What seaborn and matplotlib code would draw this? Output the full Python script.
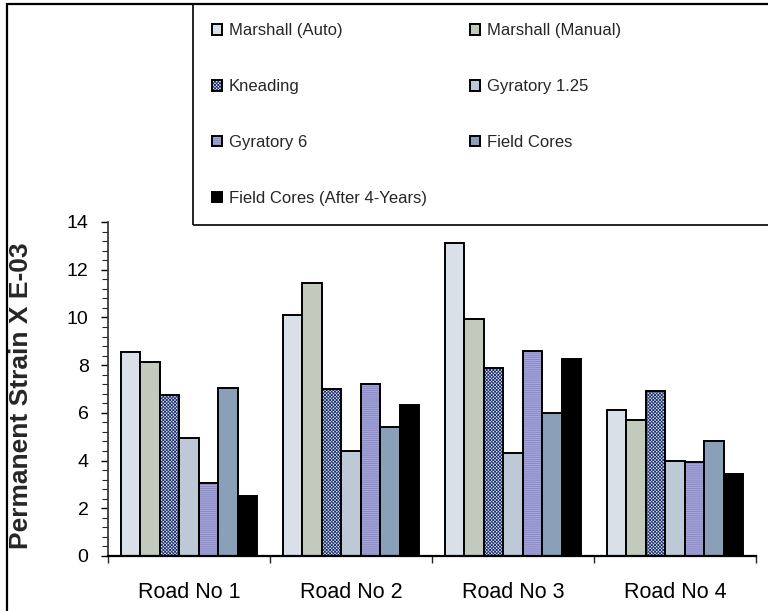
import pandas as pd
import numpy as np
import matplotlib.pyplot as plt
import matplotlib.patches as mpatches
from matplotlib.colors import to_rgba
from matplotlib.ticker import MultipleLocator
import seaborn as sns

sns.set_theme(style="white")
plt.rcParams['font.family'] = ['Liberation Sans', 'DejaVu Sans']
plt.rcParams['hatch.linewidth'] = 0.6

roads = ["Road No 1", "Road No 2", "Road No 3", "Road No 4"]
methods = ["Marshall (Auto)", "Marshall (Manual)", "Kneading", "Gyratory 1.25",
           "Gyratory 6", "Field Cores", "Field Cores (After 4-Years)"]

marshall_auto = [8.55, 10.1, 13.1, 6.1]
marshall_manual = [8.15, 11.45, 9.95, 5.7]
kneading = [6.75, 7.0, 7.9, 6.9]
gyratory_125 = [4.95, 4.4, 4.3, 4.0]
gyratory_6 = [3.05, 7.2, 8.6, 3.95]
field_cores = [7.05, 5.4, 6.0, 4.8]
field_cores_4yr = [2.5, 6.35, 8.25, 3.45]

colors = ["#D9E0E8", "#C2CABE", "#DCE2EE", "#BDC9D6", "#A6A6D8", "#8A9FB8", "#000000"]
hatches = [None, None, "xxxxxxxxxx", None, "--------", None, None]
hatch_colors = [None, None, "#1E3470", None, "#8686C6", None, None]

series = [marshall_auto, marshall_manual, kneading, gyratory_125,
          gyratory_6, field_cores, field_cores_4yr]
df = pd.DataFrame({
    "Road": np.tile(roads, len(methods)),
    "Method": np.repeat(methods, len(roads)),
    "Strain": np.concatenate(series),
})

fig = plt.figure(figsize=(7.68, 6.11), dpi=100)
ax = fig.add_axes([108 / 768, 1 - 556 / 611, 648 / 768, 334 / 611])

sns.barplot(data=df, x="Road", y="Strain", hue="Method", order=roads,
            hue_order=methods, palette=colors, width=0.84, gap=0,
            edgecolor="black", linewidth=1.4, saturation=1,
            errorbar=None, legend=False, ax=ax)

for cont, h, hc in zip(ax.containers, hatches, hatch_colors):
    for p in cont.patches:
        p.set_edgecolor("black")
        if h:
            p.set_hatch(h)
            p._hatch_color = to_rgba(hc)

ax.set_xlim(-0.5, 3.5)
ax.set_ylim(0, 14)
ax.yaxis.set_major_locator(MultipleLocator(2))
ax.yaxis.set_minor_locator(MultipleLocator(0.4))
ax.set_xticks([0, 1, 2, 3])
ax.set_xticklabels(roads, fontsize=15.5)
ax.set_xticks([-0.5, 0.5, 1.5, 2.5, 3.5], minor=True)
ax.tick_params(axis="x", which="major", length=0, pad=19, colors="black")
ax.tick_params(axis="x", which="minor", length=5, width=1, direction="out", bottom=True)
ax.tick_params(axis="y", which="major", length=5, width=1, pad=9, labelsize=14,
               direction="out", left=True, colors="black")
ax.tick_params(axis="y", which="minor", length=4, width=0.8, direction="out", left=True)

for s in ["top", "right"]:
    ax.spines[s].set_visible(False)
ax.spines["left"].set_color("#333333")
ax.spines["bottom"].set_color("black")
ax.spines["bottom"].set_linewidth(1.6)
ax.set_xlabel("")
ax.set_ylabel("Permanent Strain X E-03", fontsize=19, fontweight="bold")
ax.yaxis.set_label_coords(-0.115, 0.48)

# outer frame and legend box
fig.patches.append(mpatches.Rectangle((6.5 / 768, -0.05), 1.1, 1 - 3.5 / 611 + 0.05,
                                      transform=fig.transFigure, fill=False,
                                      edgecolor="black", linewidth=1.6))
fig.patches.append(mpatches.Rectangle((193 / 768, 1 - 225 / 611), 1.0, 225 / 611 - 3.5 / 611,
                                      transform=fig.transFigure, fill=False,
                                      edgecolor="black", linewidth=1.2))

# legend reads row by row in the original, matplotlib fills columns first
leg_order = [0, 2, 4, 6, 1, 3, 5]
handles = [ax.containers[i].patches[0] for i in leg_order]
labels = [methods[i] for i in leg_order]
fig.legend(handles, labels, ncol=2, frameon=False, fontsize=12,
           loc="upper left", bbox_to_anchor=(204 / 768, 1 - 15 / 611),
           handlelength=0.6, handleheight=0.6, handletextpad=0.4,
           labelspacing=2.45, columnspacing=2.6, borderpad=0)

fig.savefig("out.png", dpi=100)
